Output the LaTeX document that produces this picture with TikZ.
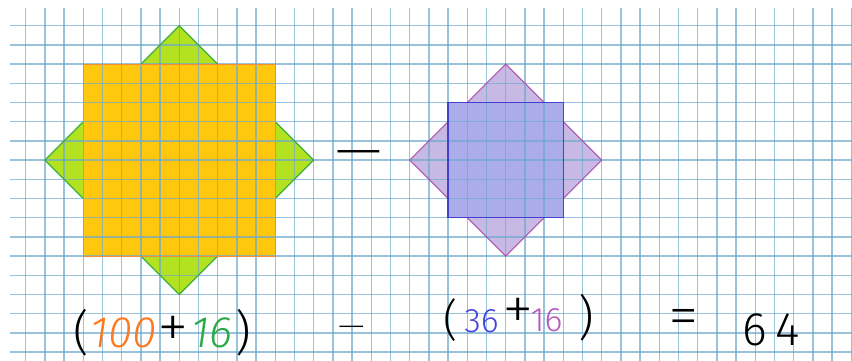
\documentclass[tikz,border=0pt]{standalone}
\usepackage{fontspec}
\newfontfamily\hand{Fira Sans Light}[ItalicFont={Fira Sans Light Italic}]
\newfontfamily\handthin{Fira Sans ExtraLight}
\definecolor{gridc}{RGB}{110,170,205}
\definecolor{orfill}{RGB}{255,200,15}
\definecolor{orline}{RGB}{245,140,55}
\definecolor{grfill}{RGB}{178,226,32}
\definecolor{grline}{RGB}{60,175,60}
\definecolor{lvfill}{RGB}{200,185,228}
\definecolor{lvline}{RGB}{175,85,175}
\definecolor{blfill}{RGB}{172,172,235}
\definecolor{blline}{RGB}{65,65,205}
\definecolor{txor}{RGB}{255,120,30}
\definecolor{txgr}{RGB}{40,170,70}
\definecolor{txbl}{RGB}{70,70,220}
\definecolor{txpu}{RGB}{180,90,190}
\tikzset{
  gridline/.style={draw=gridc, line width=1.3pt, opacity=0.7},
  hw/.style={inner sep=0pt, outer sep=0pt},
}
\newcommand{\hsz}[1]{\hand\fontsize{#1}{#1}\selectfont}
\newcommand{\tsz}[1]{\handthin\fontsize{#1}{#1}\selectfont}
\begin{document}
\begin{tikzpicture}[x=1pt,y=-1pt]
\useasboundingbox (0,0) rectangle (852,360);
\fill[white] (0,0) rectangle (852,360);
\begin{scope}[shift={(25.7,25.7)}, x=19.2pt, y=-19.2pt]
  % fills
  \fill[grfill] (8,0) -- (15,7) -- (8,14) -- (1,7) -- cycle;
  \fill[orfill] (3,2) rectangle (13,12);
  \fill[lvfill] (25,2) -- (30,7) -- (25,12) -- (20,7) -- cycle;
  \fill[blfill] (22,4) rectangle (28,10);
  % grid
  \foreach \k in {0,...,43} \draw[gridline] (\k,-0.92) -- (\k,17.45);
  \foreach \j in {0,...,17} \draw[gridline] (-0.82,\j) -- (43.1,\j);
  % outlines
  \begin{scope}[draw=grline, line width=1.2pt, line join=miter]
    \draw (6,2) -- (8,0) -- (10,2);
    \draw (13,5) -- (15,7) -- (13,9);
    \draw (10,12) -- (8,14) -- (6,12);
    \draw (3,9) -- (1,7) -- (3,5);
  \end{scope}
  \draw[orline, line width=1.2pt] (3,2) rectangle (13,12);
  \begin{scope}[draw=lvline, line width=1.1pt, line join=miter]
    \draw (23,4) -- (25,2) -- (27,4);
    \draw (28,5) -- (30,7) -- (28,9);
    \draw (27,10) -- (25,12) -- (23,10);
    \draw (22,9) -- (20,7) -- (22,5);
  \end{scope}
  \draw[blline, line width=1.4pt] (22,4) rectangle (28,10);
\end{scope}
% top minus
\node[hw, font=\tsz{60}] (m1) at (358.5,160.7) {—};
% bottom row, first expression
\node[hw, font=\hsz{48}] (p1l) at (81.5,333) {(};
\node[hw, font=\hsz{44}\itshape, text=txor] (n100) at (123.5,333) {100};
\node[hw, font=\tsz{64}] (pl1) at (173,332) {+};
\node[hw, font=\hsz{44}\itshape, text=txgr] (n16a) at (211.5,333) {16};
\node[hw, font=\hsz{48}] (p1r) at (243,333) {)};
\node[hw, font=\tsz{34}] (m2) at (351.5,332) {—};
% second expression
\node[hw, font=\hsz{44}] (p2l) at (450.5,320) {(};
\node[hw, font=\hsz{34}, text=txbl] (n36) at (481.5,321) {36};
\node[hw, font=\tsz{64}] (pl2) at (518,314) {+};
\node[hw, font=\hsz{34}, text=txpu] (n16b) at (546.5,320.5) {16};
\node[hw, font=\hsz{48}] (p2r) at (586,318) {)};
% result
\node[hw, font=\tsz{62}] (eq) at (683.5,323) {=};
\node[hw, anchor=base, font=\hsz{47}] (r) at (771,345) {6\kern8pt 4};
\end{tikzpicture}
\end{document}
